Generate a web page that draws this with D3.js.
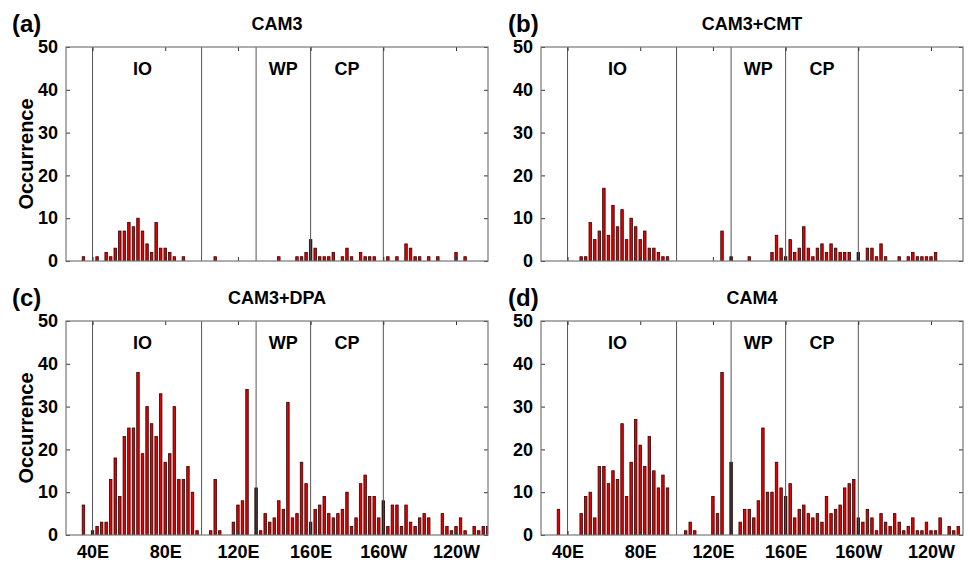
<!DOCTYPE html>
<html>
<head>
<meta charset="utf-8">
<script src="https://cdn.jsdelivr.net/npm/d3@7"></script>
<style>
  body { margin: 0; background: #fff; }
  svg text { font-family: "Liberation Sans", Arial, sans-serif; font-weight: bold; fill: #000; }
</style>
</head>
<body>
<div id="chart"></div>
<script>
// Longitude axis (degrees east, 200 = 160W)
const lonTicks = [40, 80, 120, 160, 200, 240];
const lonTickLabels = ["40E", "80E", "120E", "160E", "160W", "120W"];
const regionBounds = [40, 100, 130, 160, 200];
const regionNames = ["IO", "WP", "CP"];
const regionLabelLon = [67.5, 145, 180];
const yTicks = [0, 10, 20, 30, 40, 50];

// (a) CAM3
const cam3Lon = [35, 42.5, 47.5, 50, 52.5, 55, 57.5, 60, 62.5, 65, 67.5, 70, 72.5, 75, 77.5, 80, 82.5, 85, 90,
  107.5, 142.5, 152.5, 155, 157.5, 160, 162.5, 165, 167.5, 170, 172.5, 177.5, 180, 182.5, 187.5, 190, 192.5, 195,
  202.5, 207.5, 212.5, 215, 217.5, 220, 225, 230, 240, 245];
const cam3Count = [1, 1, 2, 1, 3, 7, 7, 9, 8, 10, 7, 4, 2, 9, 3, 3, 2, 1, 1,
  1, 1, 1, 1, 2, 5, 3, 1, 1, 1, 2, 1, 3, 1, 2, 1, 1, 1,
  1, 1, 4, 3, 1, 1, 1, 1, 2, 1];

// (b) CAM3+CMT
const cmtLon = [47.5, 50, 52.5, 55, 57.5, 60, 62.5, 65, 67.5, 70, 72.5, 75, 77.5, 80, 82.5, 85, 87.5, 90, 92.5, 95,
  125, 130, 140, 152.5, 155, 157.5, 160, 162.5, 165, 167.5, 170, 172.5, 175, 177.5, 180, 182.5, 185, 187.5, 190,
  192.5, 195, 200, 205, 207.5, 210, 212.5, 215, 222.5, 227.5, 230, 232.5, 235, 237.5, 240, 242.5];
const cmtCount = [1, 1, 9, 5, 7, 17, 6, 13, 8, 12, 5, 10, 8, 5, 7, 3, 3, 2, 1, 1,
  7, 1, 1, 2, 6, 3, 1, 5, 2, 3, 8, 3, 1, 3, 4, 2, 4, 3, 2,
  2, 2, 2, 3, 3, 1, 4, 1, 1, 1, 2, 1, 1, 1, 1, 2];

// (c) CAM3+DPA
const dpaLon = [35, 40, 42.5, 45, 47.5, 50, 52.5, 55, 57.5, 60, 62.5, 65, 67.5, 70, 72.5, 75, 77.5, 80, 82.5, 85,
  87.5, 90, 92.5, 95, 97.5, 105, 107.5, 110, 117.5, 120, 122.5, 125, 130, 132.5, 135, 137.5, 140, 142.5, 145, 147.5,
  150, 152.5, 155, 157.5, 160, 162.5, 165, 167.5, 170, 172.5, 175, 177.5, 180, 182.5, 185, 187.5, 190, 192.5, 195,
  197.5, 200, 202.5, 205, 207.5, 210, 212.5, 215, 217.5, 220, 222.5, 225, 232.5, 235, 237.5, 240, 242.5, 245,
  250, 252.5, 255, 257.5];
const dpaCount = [7, 1, 2, 3, 3, 13, 18, 9, 23, 25, 25, 38, 19, 30, 26, 23, 33, 17, 19, 30,
  13, 13, 16, 10, 1, 1, 13, 1, 3, 7, 8, 34, 11, 1, 5, 3, 4, 8, 6, 31,
  4, 5, 17, 12, 3, 6, 7, 9, 5, 4, 5, 6, 10, 2, 4, 12, 14, 9, 9,
  4, 8, 2, 7, 7, 2, 7, 3, 2, 4, 5, 4, 5, 2, 1, 2, 4, 1,
  2, 1, 2, 2];

// (d) CAM4
const cam4Lon = [35, 47.5, 50, 52.5, 55, 57.5, 60, 62.5, 65, 67.5, 70, 72.5, 75, 77.5, 80, 82.5, 85, 87.5, 90, 92.5, 95,
  105, 107.5, 110, 120, 122.5, 125, 130, 135, 137.5, 140, 142.5, 145, 147.5, 150, 152.5, 155, 157.5, 160, 162.5,
  165, 167.5, 170, 172.5, 175, 177.5, 180, 182.5, 185, 187.5, 190, 192.5, 195, 197.5, 200, 202.5, 205, 207.5,
  210, 212.5, 215, 217.5, 220, 222.5, 225, 227.5, 230, 232.5, 235, 237.5, 240, 242.5, 245, 250, 252.5, 255];
const cam4Count = [6, 5, 9, 10, 4, 16, 16, 12, 15, 13, 26, 9, 17, 27, 21, 16, 23, 15, 11, 14, 11,
  1, 3, 1, 9, 5, 38, 17, 3, 6, 6, 4, 8, 25, 10, 10, 17, 11, 9, 12,
  4, 6, 7, 5, 4, 5, 3, 9, 5, 6, 7, 11, 12, 13, 4, 3, 6, 4,
  1, 5, 3, 2, 5, 3, 1, 2, 4, 1, 1, 3, 1, 1, 4, 2, 1, 2];

const panels = [
  {tag: "(a)", title: "CAM3", lon: cam3Lon, count: cam3Count, left: 66, top: 47, tagX: 12, ylabel: true, xlabels: false},
  {tag: "(b)", title: "CAM3+CMT", lon: cmtLon, count: cmtCount, left: 541, top: 47, tagX: 508, ylabel: false, xlabels: false},
  {tag: "(c)", title: "CAM3+DPA", lon: dpaLon, count: dpaCount, left: 66, top: 321, tagX: 12, ylabel: true, xlabels: true},
  {tag: "(d)", title: "CAM4", lon: cam4Lon, count: cam4Count, left: 541, top: 321, tagX: 508, ylabel: false, xlabels: true}
];

const width = 422, height = 214;

const svg = d3.select("#chart")
  .append("svg")
  .attr("width", 970)
  .attr("height", 565);

const x = d3.scaleLinear().domain([25.4, 257.6]).range([0, width]);
const y = d3.scaleLinear().domain([0, 50]).range([height, 0]);
const barW = (x(2.5) - x(0)) * 0.55;

panels.forEach((p, i) => {
  const g = svg.append("g")
    .attr("transform", "translate(" + p.left + "," + p.top + ")");

  g.append("clipPath").attr("id", "clip" + i)
    .append("rect").attr("width", width).attr("height", height);

  // Bars
  const data = p.lon.map((d, j) => ({lon: d, n: p.count[j]}));
  g.append("g").attr("clip-path", "url(#clip" + i + ")")
    .selectAll("rect")
    .data(data)
    .enter()
    .append("rect")
    .attr("x", d => x(d.lon) - barW / 2)
    .attr("y", d => y(d.n))
    .attr("width", barW)
    .attr("height", d => y(0) - y(d.n))
    .attr("fill", d => regionBounds.includes(d.lon) ? "#1a0000" : "#e30000")
    .attr("stroke", "#2e0303")
    .attr("stroke-width", 0.8);

  // Region dividers
  g.selectAll(".divider")
    .data(regionBounds)
    .enter()
    .append("line")
    .attr("x1", d => x(d)).attr("x2", d => x(d))
    .attr("y1", 0).attr("y2", height)
    .attr("stroke", "#555")
    .attr("stroke-width", 1);

  // Region labels
  g.selectAll(".region")
    .data(regionNames)
    .enter()
    .append("text")
    .attr("x", (d, j) => x(regionLabelLon[j]))
    .attr("y", 28)
    .attr("text-anchor", "middle")
    .style("font-size", "18px")
    .text(d => d);

  // Axes: MATLAB-style box with inward ticks
  const yLeft = d3.axisLeft(y).tickValues(yTicks).tickSizeInner(-4).tickSizeOuter(0).tickPadding(8);
  const yRight = d3.axisRight(y).tickValues(yTicks).tickSizeInner(-4).tickSizeOuter(0).tickFormat("");
  const xBottom = d3.axisBottom(x).tickValues(lonTicks).tickSizeInner(-4).tickSizeOuter(0).tickPadding(10)
    .tickFormat((d, j) => p.xlabels ? lonTickLabels[j] : "");
  const xTop = d3.axisTop(x).tickValues(lonTicks).tickSizeInner(-4).tickSizeOuter(0).tickFormat("");

  const axes = [
    g.append("g").call(yLeft),
    g.append("g").attr("transform", "translate(" + width + ",0)").call(yRight),
    g.append("g").attr("transform", "translate(0," + height + ")").call(xBottom),
    g.append("g").call(xTop)
  ];
  axes.forEach(a => {
    a.select(".domain").remove();
    a.selectAll(".tick line").attr("stroke", "#333");
    a.selectAll("text").style("font-size", "18px").attr("fill", "#000");
  });

  g.append("rect")
    .attr("width", width).attr("height", height)
    .attr("fill", "none")
    .attr("stroke", "#777")
    .attr("stroke-width", 1.2);

  // Titles
  g.append("text")
    .attr("x", width / 2)
    .attr("y", -17)
    .attr("text-anchor", "middle")
    .style("font-size", "18px")
    .text(p.title);

  svg.append("text")
    .attr("x", p.tagX)
    .attr("y", p.top - 15)
    .style("font-size", "24px")
    .text(p.tag);

  if (p.ylabel) {
    g.append("text")
      .attr("transform", "translate(" + (-33) + "," + (height / 2) + ") rotate(-90)")
      .attr("text-anchor", "middle")
      .style("font-size", "20px")
      .text("Occurrence");
  }
});
</script>
</body>
</html>
